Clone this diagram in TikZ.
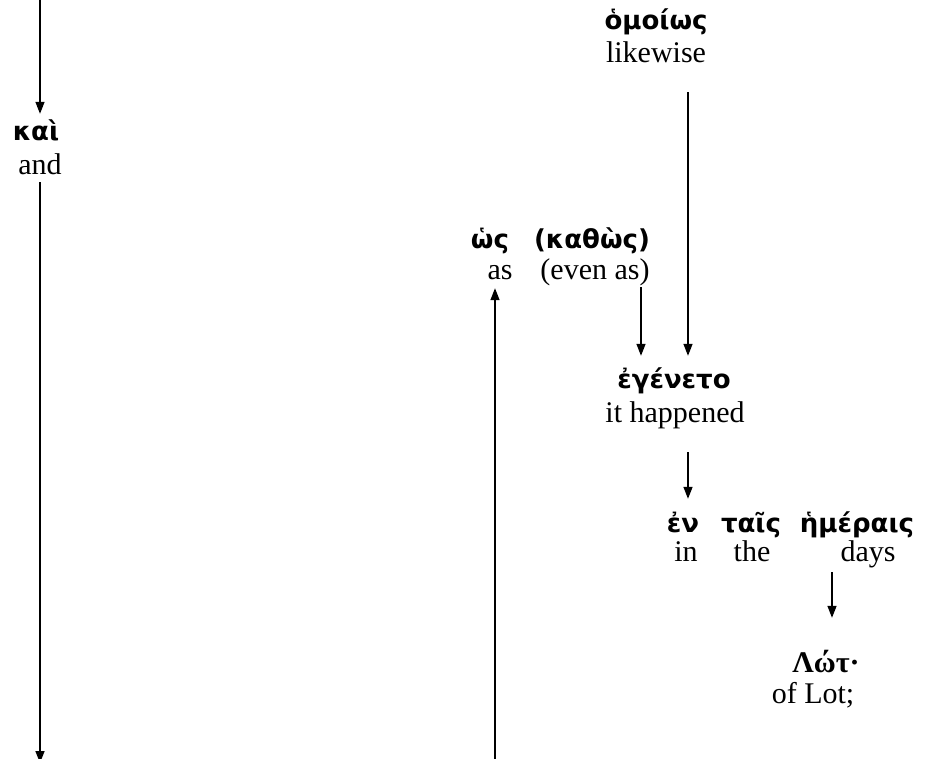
\documentclass[tikz,border=0pt]{standalone}
\usepackage{fontspec}
\setmainfont{Liberation Serif}
\newfontfamily\grk{DejaVu Sans}[BoldFont={DejaVu Sans Bold}]
\newfontfamily\grkserif{Liberation Serif}
\usetikzlibrary{arrows.meta}
\tikzset{
  gk/.style={anchor=base, inner sep=0pt, text height=22pt, text depth=7pt, font=\grk\bfseries\fontsize{26}{28}\selectfont},
  gks/.style={anchor=base, inner sep=0pt, text height=22pt, text depth=7pt, font=\grkserif\bfseries\fontsize{30}{32}\selectfont},
  en/.style={anchor=base, inner sep=0pt, text height=21pt, text depth=7pt, font=\fontsize{30}{32}\selectfont},
  arr/.style={line width=1.5pt, -{Triangle[length=12pt,width=9pt]}}
}
\begin{document}
\begin{tikzpicture}[x=1pt,y=-1pt]
\useasboundingbox (0,0) rectangle (927,759);
% text
\node[gk] (homoios) at (656,30) {ὁμοίως};
\node[en] (likewise) at (656,63) {likewise};
\node[gk] (kai) at (36,141) {καὶ};
\node[en] (and) at (40,175) {and};
\node[gk] (hos) at (490,249) {ὡς};
\node[gk] (kathos) at (592,249) {(καθὼς)};
\node[en] (as) at (500,280) {as};
\node[en] (evenas) at (595,280) {(even as)};
\node[gk] (egeneto) at (674,389) {ἐγένετο};
\node[en] (happened) at (675,423) {it happened};
\node[gk] (en) at (683,532) {ἐν};
\node[gk] (tais) at (751,532) {ταῖς};
\node[gk] (hemerais) at (857,532) {ἡμέραις};
\node[en] (in) at (686,561) {in};
\node[en] (the) at (752,561) {the};
\node[en] (days) at (868,561) {days};
\node[gks] (lot) at (826,672) {Λώτ·};
\node[en] (oflot) at (813,703) {of Lot;};
% coordinates
\coordinate (topL) at (40,0);
\coordinate (botL) at (40,763);
\coordinate (botM) at (495,763);
\coordinate (colA) at (641,0);
\coordinate (colB) at (688,0);
\coordinate (colC) at (832,0);
% connectors
\draw[arr] (topL) -- ([yshift=5pt]kai.north -| topL);
\draw[arr] (and.south -| botL) -- (botL);
\draw[arr] (botM) -- ([yshift=-1pt]as.south -| botM);
\draw[arr] (evenas.south -| colA) -- ([yshift=11pt]egeneto.north -| colA);
\draw[arr] ([yshift=-22pt]likewise.south -| colB) -- ([yshift=11pt]egeneto.north -| colB);
\draw[arr] ([yshift=-22pt]happened.south -| colB) -- ([yshift=11pt]en.north -| colB);
\draw[arr] ([yshift=-4pt]days.south -| colC) -- ([yshift=32pt]lot.north -| colC);
\end{tikzpicture}
\end{document}
